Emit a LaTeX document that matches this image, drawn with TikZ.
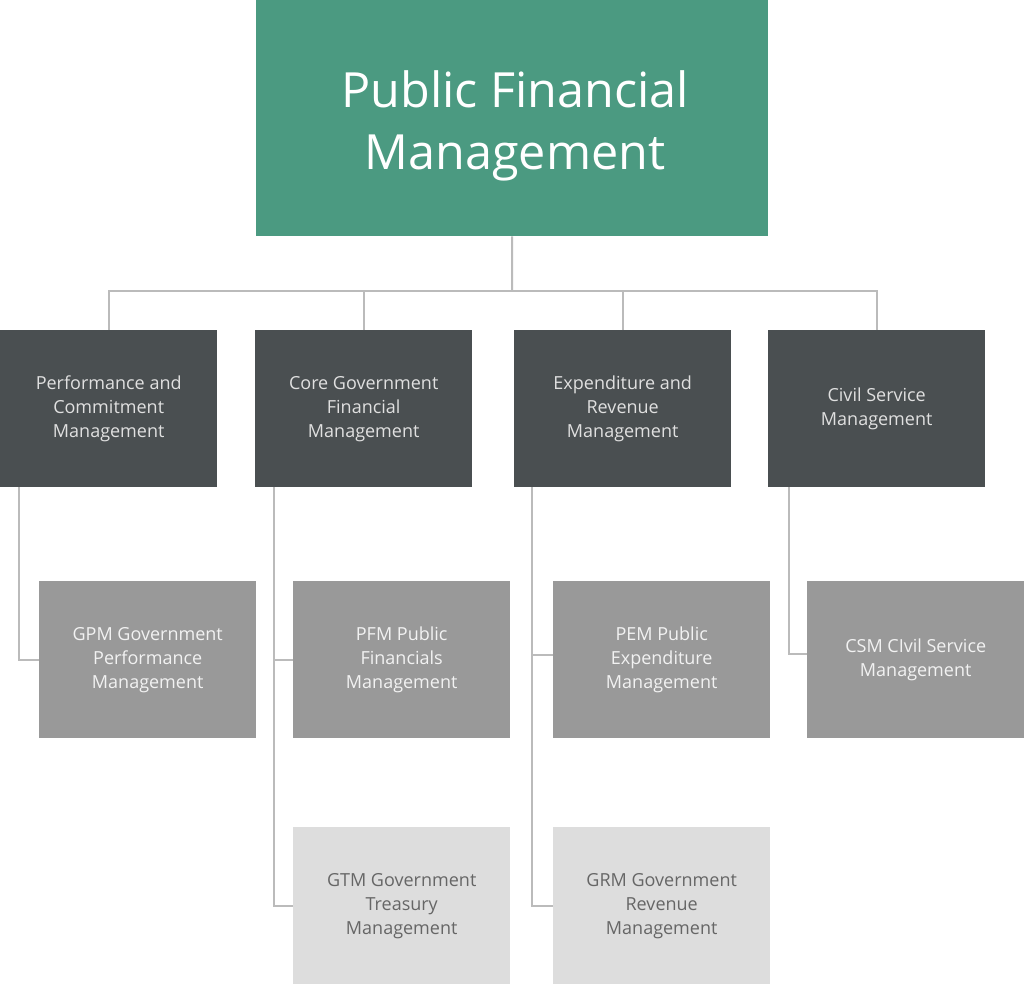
\documentclass[tikz,border=0pt]{standalone}
\usepackage{fontspec}
\setmainfont{Open Sans}
\definecolor{pfmgreen}{HTML}{4B9A81}
\definecolor{darkbox}{HTML}{4A4F51}
\definecolor{midbox}{HTML}{999999}
\definecolor{lightbox}{HTML}{DDDDDD}
\definecolor{linec}{HTML}{BBBBBB}
\definecolor{lighttext}{HTML}{666666}
\begin{document}
\begin{tikzpicture}[x=1pt,y=-1pt,
  box/.style={minimum width=217pt,minimum height=157pt,inner sep=0pt,align=center,font=\fontsize{18}{24}\selectfont,anchor=north west},
  lvltwo/.style={box,fill=darkbox,text=white!88!black},
  lvlthree/.style={box,fill=midbox,text=white!95!black},
  lvlfour/.style={box,fill=lightbox,text=lighttext},
  conn/.style={draw=linec,line width=2pt}]
\useasboundingbox (0,0) rectangle (1024,985);
\node[fill=pfmgreen,minimum width=512pt,minimum height=236pt,inner sep=0pt,anchor=north west] (top) at (256,0) {};
\node[text=white,align=center,inner sep=0pt,font=\fontsize{48.5}{62}\selectfont] (title) at (515,126) {Public Financial\\Management};
\node[lvltwo] (a) at (0,330) {Performance and\\Commitment\\Management};
\node[lvltwo] (b) at (255,330) {Core Government\\Financial\\Management};
\node[lvltwo] (c) at (514,330) {Expenditure and\\Revenue\\Management};
\node[lvltwo] (d) at (768,330) {Civil Service\\Management};
\node[lvlthree] (a1) at (39,581) {GPM Government\\Performance\\Management};
\node[lvlthree] (b1) at (293,581) {PFM Public\\Financials\\Management};
\node[lvlthree] (c1) at (553,581) {PEM Public\\Expenditure\\Management};
\node[lvlthree] (d1) at (807,581) {CSM CIvil Service\\Management};
\node[lvlfour] (b2) at (293,827) {GTM Government\\Treasury\\Management};
\node[lvlfour] (c2) at (553,827) {GRM Government\\Revenue\\Management};
\coordinate (hub) at (512,291);
\draw[conn] (top.south) -- (hub);
\draw[conn] (a.north) |- (hub);
\draw[conn] (b.north) |- (hub);
\draw[conn] (c.north) |- (hub);
\draw[conn] (d.north) |- (hub);
\draw[conn] ([xshift=19pt]a.south west) |- (a1.west);
\draw[conn] ([xshift=19pt]b.south west) |- (b2.west);
\draw[conn] ([xshift=19pt]b.south west) |- (b1.west);
\draw[conn] ([xshift=18pt]c.south west) |- (c2.west);
\draw[conn] ([xshift=18pt]c.south west) |- ([yshift=5pt]c1.west);
\draw[conn] ([xshift=21pt]d.south west) |- ([yshift=6pt]d1.west);
\end{tikzpicture}
\end{document}
